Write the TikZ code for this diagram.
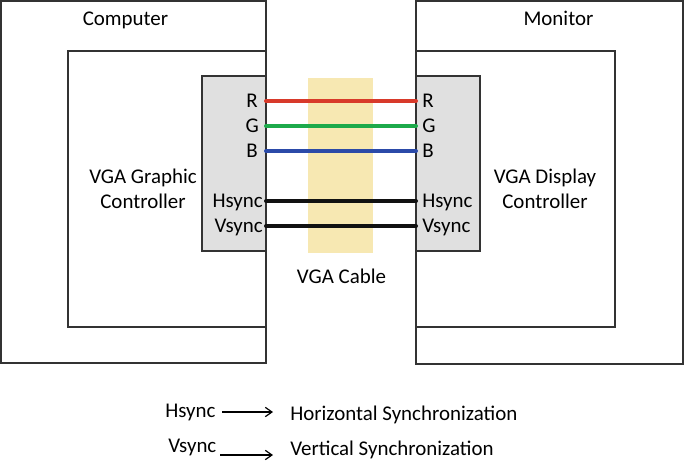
\documentclass[tikz,border=0pt]{standalone}
\usepackage{fontspec}
\setmainfont{Carlito}
\usetikzlibrary{arrows.meta}
\definecolor{wirered}{RGB}{216,58,42}
\definecolor{wiregreen}{RGB}{29,170,75}
\definecolor{wireblue}{RGB}{43,74,168}
\definecolor{wireblack}{RGB}{17,17,17}
\definecolor{cablefill}{RGB}{247,232,178}
\definecolor{portgray}{RGB}{224,224,224}
\definecolor{edgegray}{RGB}{51,51,51}

\begin{document}
\begin{tikzpicture}[
  x=0.75pt, y=-0.75pt,
  every node/.style={font=\fontsize{15.7}{18.75}\selectfont, inner sep=0pt},
  frame/.style={draw=edgegray, line width=1.1pt},
  port/.style={frame, fill=portgray},
  cable/.style={fill=cablefill, draw=none},
  wire/.style={line width=3pt, line cap=round},
  title/.style={anchor=base},
  ctrl/.style={align=center},
  legarr/.style={-{Straight Barb[length=5pt, width=7pt]}, line width=0.9pt}
]
\useasboundingbox (0,0) rectangle (685,465);

% Computer side: outer case, controller, connector
\draw[frame] (1,1) rectangle (266,363);
\draw[frame] (68,51) rectangle (266,327);
\draw[port]  (202,76) rectangle (266,251);

% Monitor side
\draw[frame] (416,1) rectangle (683,364);
\draw[frame] (416,51) rectangle (615,327);
\draw[port]  (416,76) rectangle (480,251);

% cable band between the two connectors
\fill[cable] (308,78) rectangle (373,253);

\node[title] (computer) at (125.5,25) {Computer};
\node[title] (monitor)  at (558.5,25) {Monitor};
\node[ctrl]  (gfx)      at (143,189)  {VGA Graphic\\Controller};
\node[ctrl]  (disp)     at (545,189)  {VGA Display\\Controller};
\node[title] (cablelbl) at (341.5,283) {VGA Cable};

% signals: pin on each side, label, wire
\foreach \sig/\y/\lx/\col in {R/101/258/wirered, G/126/259/wiregreen, B/151/258/wireblue,
                               Hsync/201/263/wireblack, Vsync/226/263/wireblack} {
  \coordinate (pc\sig)  at (266,\y);
  \coordinate (mon\sig) at (416,\y);
  \node[anchor=base east] (pcl\sig)  at (\lx,\y+6.5) {\sig};
  \node[anchor=base west] (monl\sig) at (422,\y+6.5) {\sig};
  \draw[wire, draw=\col] (pc\sig) -- (mon\sig);
}

% legend
\node[anchor=base west] (hs)  at (165,417) {Hsync};
\node[anchor=base west] (vs)  at (168,452) {Vsync};
\node[anchor=base west] (hsd) at (290,420) {Horizontal Synchronization};
\node[anchor=base west] (vsd) at (290,455) {Vertical Synchronization};
\coordinate (hsA) at (222,412);
\coordinate (hsB) at (273,412);
\coordinate (vsA) at (220,455);
\coordinate (vsB) at (273,455);
\draw[legarr] (hsA) -- (hsB);
\draw[legarr] (vsA) -- (vsB);
\end{tikzpicture}
\end{document}
